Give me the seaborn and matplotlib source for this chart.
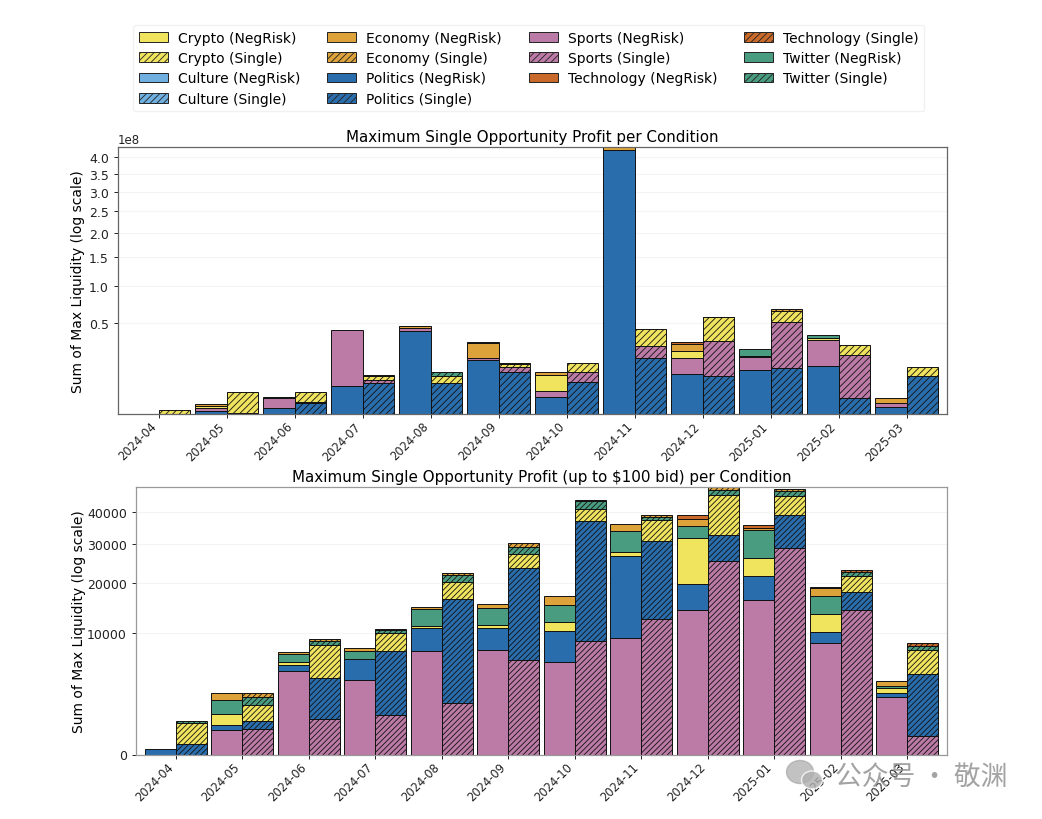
import numpy as np
import pandas as pd
import matplotlib
matplotlib.use("Agg")
import matplotlib.pyplot as plt
from matplotlib.patches import Patch, Ellipse
from matplotlib.transforms import ScaledTranslation
import seaborn as sns

months = ["2024-04", "2024-05", "2024-06", "2024-07", "2024-08", "2024-09",
          "2024-10", "2024-11", "2024-12", "2025-01", "2025-02", "2025-03"]

# top chart, max profit per condition
top_politics_neg = [0, 4.3e4, 1.95e5, 4.65e6, 4.15e7, 1.79e7, 1.69e6, 4.23e8, 9.55e6, 1.175e7, 1.38e7, 2.7e5]
top_sports_neg = [0, 1.75e5, 1.36e6, 3.79e7, 3.76e6, 1.34e6, 1.43e6, 0, 9.26e6, 7.74e6, 1.975e7, 4.2e5]
top_crypto_neg = [0, 1.7e5, 0, 0, 0, 0, 6.27e6, 0, 5.54e6, 1.16e6, 1.52e6, 0]
top_twitter_neg = [0, 0, 0, 0, 0, 0, 0, 0, 0, 4.99e6, 2.5e6, 0]
top_economy_neg = [0, 1.79e5, 1.32e5, 0, 1.76e6, 1.134e7, 1.15e6, 1.2e7, 5.68e6, 0, 0, 8.0e5]
top_tech_neg = [0, 0, 0, 0, 0, 5.8e5, 0, 0, 1.44e6, 0, 0, 0]

top_politics_single = [0, 2.7e3, 6.9e5, 5.71e6, 5.71e6, 1.054e7, 6.09e6, 1.88e7, 8.61e6, 1.266e7, 1.49e6, 8.92e6]
top_sports_single = [0, 0, 1.83e5, 1.45e6, 0, 2.68e6, 4.45e6, 9.54e6, 2.404e7, 3.91e7, 1.964e7, 0]
top_crypto_single = [9.7e4, 2.85e6, 1.98e6, 1.76e6, 3.21e6, 1.96e6, 5.05e6, 1.517e7, 2.408e7, 1.307e7, 7.49e6, 4.68e6]
top_twitter_single = [0, 0, 0, 0, 1.62e6, 0, 0, 0, 0, 0, 0, 0]
top_economy_single = [0, 0, 0, 4.7e5, 0, 8.2e5, 0, 0, 7.9e5, 2.11e6, 0, 0]
top_tech_single = [0, 0, 0, 0, 0, 0, 0, 0, 0, 0, 0, 0]

# bottom chart, profit up to $100 bid
bot_sports_neg = [0, 392, 4687, 3726, 7218, 7406, 5759, 9155, 14109, 16276, 8383, 2263]
bot_politics_neg = [17, 180, 743, 2415, 3641, 3453, 4647, 17699, 5632, 5281, 1855, 269]
bot_crypto_neg = [0, 553, 329, 50, 288, 581, 1570, 1092, 12200, 4580, 3098, 462]
bot_twitter_neg = [0, 908, 1045, 1031, 3224, 3064, 3198, 5889, 3429, 8001, 3793, 152]
bot_economy_neg = [0, 498, 275, 473, 332, 942, 1884, 2158, 2419, 715, 1620, 480]
bot_tech_neg = [0, 0, 0, 0, 0, 0, 0, 0, 1077, 826, 378, 0]

bot_sports_single = [0, 448, 833, 1071, 1770, 6098, 8791, 12462, 25520, 28873, 14109, 237]
bot_politics_single = [73, 323, 3097, 6241, 14577, 17442, 28147, 18407, 7312, 9992, 3748, 4190]
bot_crypto_single = [581, 885, 4253, 2760, 3939, 3859, 4125, 6493, 13046, 6542, 3863, 2979]
bot_twitter_single = [87, 555, 556, 446, 1515, 1757, 2718, 1070, 1544, 1655, 983, 628]
bot_economy_single = [0, 321, 259, 227, 490, 1138, 346, 432, 1400, 839, 0, 0]
bot_tech_single = [0, 0, 0, 0, 0, 0, 0, 0, 0, 0, 416, 399]

top_ticks = [0.5e8, 1.0e8, 1.5e8, 2.0e8, 2.5e8, 3.0e8, 3.5e8, 4.0e8]
bot_ticks = [0, 10000, 20000, 30000, 40000]

colors = {
    "Crypto": "#F0E35E",
    "Culture": "#6FB0E0",
    "Economy": "#DDA33A",
    "Politics": "#2A6DAC",
    "Sports": "#BC7AA6",
    "Technology": "#C96A2A",
    "Twitter": "#4A9C80",
}

BAR_W = 0.465
sns.set_theme(style="ticks", rc={"text.color": "black", "axes.labelcolor": "black",
                                 "xtick.color": "#222222", "ytick.color": "#222222",
                                 "hatch.linewidth": 0.6, "font.family": "DejaVu Sans"})


def build_frame(neg, single):
    rows = []
    for cat in neg:
        for i in range(len(months)):
            rows.append({"x": i - BAR_W / 2, "category": cat, "value": neg[cat][i]})
            rows.append({"x": i + BAR_W / 2, "category": cat, "value": single[cat][i]})
    return pd.DataFrame(rows)


def draw_stack(ax, df, stack_order, hatch):
    edges = []
    for i in range(len(months)):
        edges += [i - BAR_W, i, i + BAR_W]
    # first hue level lands on top of the stack, so reverse
    sns.histplot(data=df, x="x", weights="value", hue="category",
                 hue_order=stack_order[::-1], palette=colors, multiple="stack",
                 bins=edges, alpha=1, edgecolor="#111111", linewidth=0.7,
                 legend=False, ax=ax)
    for cont in ax.containers:
        for j, bar in enumerate(cont):
            bar.set_visible(bar.get_height() > 0)
            if j % 3 == 1:
                bar.set_hatch(hatch)


def style_axes(ax, title, ticks, top, spine_color, label_pad):
    ax.set_yscale("function", functions=(lambda v: np.sqrt(np.maximum(v, 0)), np.square))
    ax.set_xlim(-0.6, 11.6)
    ax.set_ylim(0, top)
    ax.set_yticks(ticks)
    ax.minorticks_off()
    ax.set_xticks(range(len(months)))
    ax.set_xticklabels(months, rotation=45, ha="right", fontsize=8.3)
    shift = ScaledTranslation(3 / 100, 0, ax.figure.dpi_scale_trans)
    for lbl in ax.get_xticklabels():
        lbl.set_transform(lbl.get_transform() + shift)
    ax.tick_params(axis="y", labelsize=9, length=3, width=0.7)
    ax.tick_params(axis="x", length=3, width=0.7, pad=1)
    ax.yaxis.get_offset_text().set_fontsize(8.5)
    ax.set_title(title, fontsize=10.9, pad=4)
    ax.set_xlabel("")
    ax.set_ylabel("Sum of Max Liquidity (log scale)", fontsize=10, labelpad=label_pad)
    ax.grid(axis="y", alpha=0.2, linewidth=0.8)
    ax.set_axisbelow(True)
    for s in ax.spines.values():
        s.set_visible(True)
        s.set_color(spine_color)
        s.set_linewidth(0.9)


W, H = 1042, 820
fig = plt.figure(figsize=(W / 100, H / 100), dpi=100)
ax_top = fig.add_axes([118 / W, 1 - 415 / H, (947.3 - 118) / W, 267 / H])
ax_bot = fig.add_axes([136 / W, 1 - 755.5 / H, (947.3 - 136) / W, 267.5 / H])

top_neg = {"Politics": top_politics_neg, "Sports": top_sports_neg, "Crypto": top_crypto_neg,
           "Twitter": top_twitter_neg, "Economy": top_economy_neg, "Technology": top_tech_neg}
top_single = {"Politics": top_politics_single, "Sports": top_sports_single, "Crypto": top_crypto_single,
              "Twitter": top_twitter_single, "Economy": top_economy_single, "Technology": top_tech_single}
bot_neg = {"Sports": bot_sports_neg, "Politics": bot_politics_neg, "Crypto": bot_crypto_neg,
           "Twitter": bot_twitter_neg, "Economy": bot_economy_neg, "Technology": bot_tech_neg}
bot_single = {"Sports": bot_sports_single, "Politics": bot_politics_single, "Crypto": bot_crypto_single,
              "Twitter": bot_twitter_single, "Economy": bot_economy_single, "Technology": bot_tech_single}

draw_stack(ax_top, build_frame(top_neg, top_single), list(top_neg), "/////")
draw_stack(ax_bot, build_frame(bot_neg, bot_single), list(bot_neg), "//////")

style_axes(ax_top, "Maximum Single Opportunity Profit per Condition", top_ticks, 4.33e8, "#666666", 3)
style_axes(ax_bot, "Maximum Single Opportunity Profit (up to $100 bid) per Condition", bot_ticks, 48620, "#999999", 1)

handles = []
for cat in sorted(colors):
    handles.append(Patch(facecolor=colors[cat], edgecolor="#222222", linewidth=0.7, label=f"{cat} (NegRisk)"))
    handles.append(Patch(facecolor=colors[cat], edgecolor="#222222", linewidth=0.7, hatch="/////", label=f"{cat} (Single)"))
leg = fig.legend(handles=handles, ncol=4, fontsize=10, loc="upper left",
                 bbox_to_anchor=(133 / W, 1 - 26 / H), borderaxespad=0, frameon=True,
                 labelspacing=0.46, columnspacing=1.93, handlelength=2.1, handletextpad=0.72)
leg.get_frame().set_edgecolor("#eeeeee")

# watermark
fig.add_artist(Ellipse((800 / W, 1 - 773 / H), 27 / W, 23 / H, color="#a8a8a8", alpha=0.7, transform=fig.transFigure))
fig.add_artist(Ellipse((812 / W, 1 - 781 / H), 21 / W, 18 / H, color="#b0b0b0", alpha=0.8, ec="white", transform=fig.transFigure))
fig.text(835 / W, 1 - 777 / H, "公众号 · 敬渊", fontsize=19.3, color="#8c8c8c", alpha=0.8,
         family=["Noto Sans CJK SC", "DejaVu Sans"], va="center", ha="left")

plt.savefig("out.png", dpi=100)
